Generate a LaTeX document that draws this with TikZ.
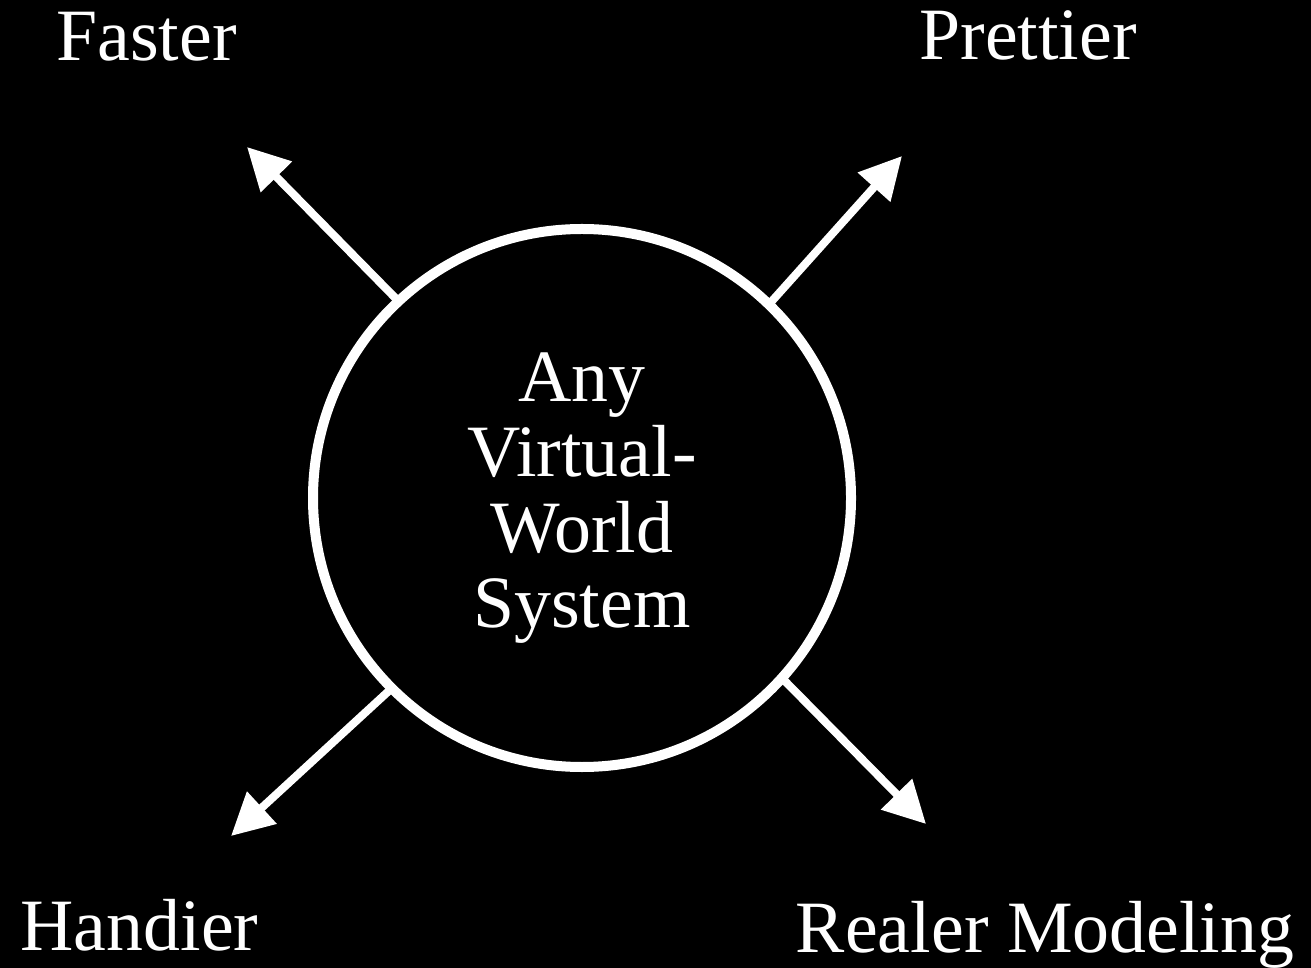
\documentclass[tikz,border=0pt]{standalone}
\usepackage{fontspec}
\setmainfont{Liberation Serif}
\usetikzlibrary{arrows.meta,positioning}

\begin{document}
\begin{tikzpicture}[
  hub/.style={circle,draw=white,line width=0.1cm,minimum size=5.38cm,inner sep=0pt,
              outer sep=0pt,align=center,text=white,font=\fontsize{21}{21.4}\selectfont},
  goal/.style={text=white,inner sep=0pt,anchor=base,font=\fontsize{21}{25}\selectfont},
  arr/.style={-{Triangle[length=0.42cm,width=0.42cm]},white,line width=0.08cm}
]
  \fill[black] (0,0) rectangle (13.11,-9.68);
  \useasboundingbox (0,0) rectangle (13.11,-9.68);

  \node[hub] (sys) at (5.82,-4.98) {Any\\Virtual-\\World\\System};

  \node[goal] (fast)  at (1.465,-0.61) {Faster};
  \node[goal] (pretty) at (10.28,-0.60) {Prettier};
  \node[goal] (handy) at (1.395,-9.50) {Handier};
  \node[goal] (real)  at (10.45,-9.52) {Realer Modeling};

  \coordinate (tfast)   at (2.47,-1.47);
  \coordinate (tpretty) at (9.02,-1.56);
  \coordinate (thandy)  at (2.31,-8.36);
  \coordinate (treal)   at (9.26,-8.24);

  \draw[arr] (sys.133) -- (tfast);
  \draw[arr] (sys.46)  -- (tpretty);
  \draw[arr] (sys.225) -- (thandy);
  \draw[arr] (sys.-42) -- (treal);
\end{tikzpicture}
\end{document}
